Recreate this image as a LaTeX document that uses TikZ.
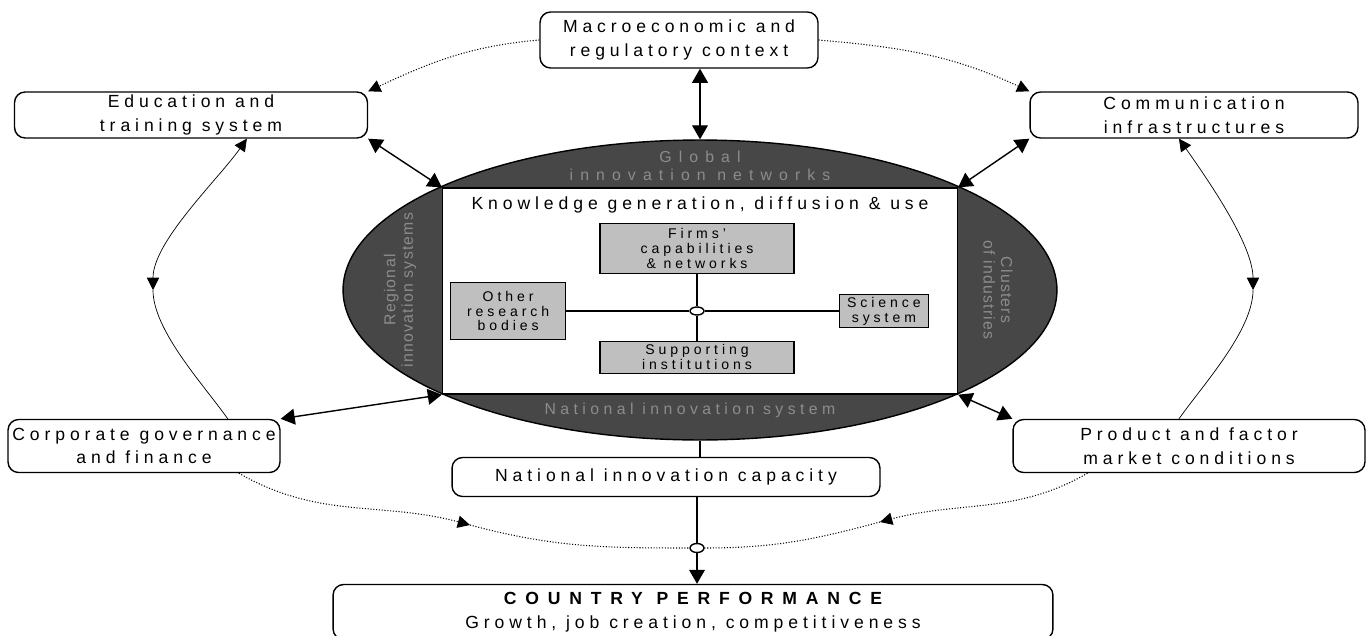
\documentclass[tikz,border=0pt]{standalone}
\usepackage{fontspec}
\setmainfont{Liberation Sans}[LetterSpace=28]
\usetikzlibrary{shapes.geometric, arrows, arrows.meta, positioning}
\tikzstyle{ctx} = [rectangle, rounded corners=6pt, draw=black, thick, fill=white, align=center, inner sep=1pt, font=\fontsize{10}{13.5}\selectfont]
\tikzstyle{actor} = [rectangle, draw=black, thick, fill=black!25, align=center, inner sep=1pt, font=\fontsize{8}{8.5}\selectfont]
\tikzstyle{band} = [align=center, text=black!45, font=\fontsize{9}{10}\selectfont\addfontfeature{LetterSpace=8}]
\tikzstyle{arrow} = [thick, <->, >={Triangle[length=8pt, width=9pt]}]
\tikzstyle{flow} = [densely dotted, semithick, ->, >={Triangle[length=7pt, width=7pt]}]
\tikzstyle{ring} = [thin, >={Triangle[length=7pt, width=7pt]}]

\begin{document}
\begin{tikzpicture}[x=0.02cm, y=-0.02cm]
\useasboundingbox (0,0) rectangle (1371,635);

% context around the system
\node (macro) [ctx, minimum width=5.56cm, minimum height=1.12cm] at (679,40) {Macroeconomic and\\regulatory context};
\node (edu) [ctx, minimum width=7.06cm, minimum height=0.92cm] at (191,115) {Education and\\training system};
\node (comm) [ctx, minimum width=6.56cm, minimum height=0.92cm] at (1194,115) {Communication\\infrastructures};
\node (corp) [ctx, minimum width=5.44cm, minimum height=1.06cm] at (144,446) {Corporate governance\\and finance};
\node (prod) [ctx, minimum width=7.04cm, minimum height=1.06cm] at (1189,446) {Product and factor\\market conditions};
\node (nic) [ctx, minimum width=8.56cm, minimum height=0.78cm] at (666,477) {National innovation capacity};
\node (perf) [ctx, minimum width=14.4cm, minimum height=1.1cm] at (693,612) {{\bfseries\addfontfeature{LetterSpace=50}COUNTRY PERFORMANCE}\\Growth, job creation, competitiveness};

% national innovation system
\node (nis) [ellipse, draw=black, thick, fill=black!72, minimum width=14.28cm, minimum height=6cm, inner sep=0pt] at (700,290) {};
\node (glob) [band, font=\fontsize{9}{10}\selectfont\addfontfeature{LetterSpace=45}] at (700,166) {Global\\innovation networks};
\node (reg) [band, rotate=90] at (400,290) {Regional\\innovation systems};
\node (clus) [band, rotate=-90] at (998,290) {Clusters\\of industries};
\node (natl) [band, font=\fontsize{9}{10}\selectfont\addfontfeature{LetterSpace=28}] at (690,410) {National innovation system};
\node (know) [rectangle, draw=black, thick, fill=white, minimum width=10.3cm, minimum height=4.12cm] at (700,291) {};
\node (title) [font=\fontsize{10}{12}\selectfont, below=2pt of know.north] {Knowledge generation, diffusion \& use};

% actors
\node (hub) [ellipse, draw=black, thick, fill=white, minimum width=0.28cm, minimum height=0.16cm, inner sep=0pt] at (697,311) {};
\node (firms) [actor, above=0.64cm of hub, minimum width=3.88cm, minimum height=1cm] {Firms'\\capabilities\\\& networks};
\node (supp) [actor, below=0.5cm of hub, minimum width=3.88cm, minimum height=0.64cm] {Supporting\\institutions};
\node (other) [actor, left=2.46cm of hub, minimum width=2.3cm, minimum height=1.14cm] {Other\\research\\bodies};
\node (sci) [actor, right=2.68cm of hub, minimum width=1.78cm, minimum height=0.66cm] {Science\\system};
\draw [thick] (firms) -- (hub);
\draw [thick] (supp) -- (hub);
\draw [thick] (other) -- (hub);
\draw [thick] (sci) -- (hub);

% links to the context
\draw [arrow] (nis.north |- macro.south) -- (nis.north);
\draw [arrow] (edu.south east) -- (know.north west);
\draw [arrow] (comm.south west) -- (know.north east);
\draw [arrow] (corp.north east) -- (know.south west);
\draw [arrow] (prod.north west) -- (know.south east);

\draw [flow] (macro.west) to[out=185, in=25] (edu.north east);
\draw [flow] (macro.east) to[out=-5, in=155] (comm.north west);

\coordinate (lmid) at (153,290);
\coordinate (rmid) at (1253,290);
\draw [ring, <->] (edu.-23) to[out=235, in=90, looseness=0.7] (lmid);
\draw [ring] (lmid) to[out=-90, in=125, looseness=0.7] (corp.18);
\draw [ring, <->] ([xshift=-0.3cm]comm.south) to[out=-55, in=90, looseness=0.7] (rmid);
\draw [ring] (rmid) to[out=-90, in=55, looseness=0.7] ([xshift=-0.2cm]prod.north);

% performance
\node (joint) [ellipse, draw=black, thick, fill=white, minimum width=0.28cm, minimum height=0.18cm, inner sep=0pt] at (697,548) {};
\coordinate (lbot) at (470,525);
\coordinate (rbot) at (880,522);
\draw [flow] (corp.-16) to[out=-30, in=165] (lbot);
\draw [densely dotted, semithick] (lbot) to[out=-15, in=180] (joint);
\draw [flow] (prod.-165) to[out=-150, in=15] (rbot);
\draw [densely dotted, semithick] (rbot) to[out=195, in=0] (joint);
\draw [thick] (nis.south) -- (nis.south |- nic.north);
\draw [thick] (joint |- nic.south) -- (joint);
\draw [arrow, -{Triangle[length=8pt, width=9pt]}] (joint) -- (joint |- perf.north);
\end{tikzpicture}
\end{document}
